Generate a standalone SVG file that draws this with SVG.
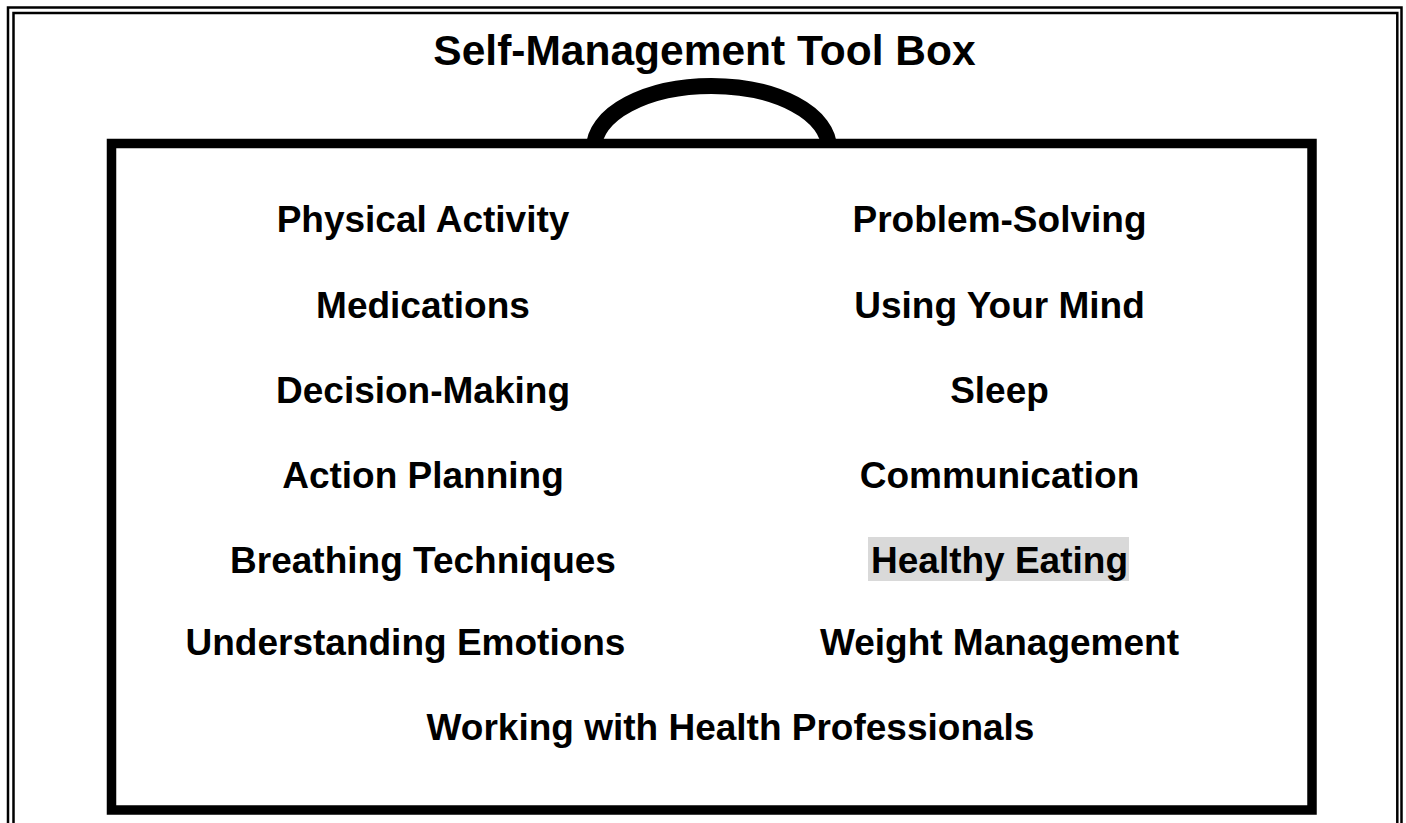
<svg xmlns="http://www.w3.org/2000/svg" width="1406" height="823" viewBox="0 0 1406 823">
<style>
.t{font-family:"Liberation Sans",Arial,sans-serif;font-weight:bold;font-size:37px;fill:#000;text-anchor:middle}
.frame{fill:none;stroke:#000;stroke-width:2.5}
</style>
<rect width="1406" height="823" fill="#fff"/>
<g id="frame">
<rect class="frame" x="8" y="7.5" width="1393.5" height="840"/>
<rect class="frame" x="13.5" y="13" width="1383.8" height="830"/>
</g>
<text id="title" class="t" x="704.5" y="65" style="font-size:42.5px">Self-Management Tool Box</text>
<g id="toolbox">
<path d="M 594 148 A 117.5 62 0 0 1 829 148" fill="none" stroke="#000" stroke-width="16"/>
<rect x="111.5" y="143.5" width="1200.5" height="666.5" fill="none" stroke="#000" stroke-width="9.5"/>
</g>
<g id="items">
<g id="n1"><text class="t" x="423" y="232">Physical Activity</text></g>
<g id="n2"><text class="t" x="999.5" y="232">Problem-Solving</text></g>
<g id="n3"><text class="t" x="423" y="318">Medications</text></g>
<g id="n4"><text class="t" x="999.5" y="318">Using Your Mind</text></g>
<g id="n5"><text class="t" x="423" y="403">Decision-Making</text></g>
<g id="n6"><text class="t" x="999.5" y="403">Sleep</text></g>
<g id="n7"><text class="t" x="423" y="488">Action Planning</text></g>
<g id="n8"><text class="t" x="999.5" y="488">Communication</text></g>
<g id="n9"><text class="t" x="423" y="573">Breathing Techniques</text></g>
<g id="n10"><rect x="868" y="537" width="261" height="44" fill="#d9d9d9"/><text class="t" x="999.5" y="573">Healthy Eating</text></g>
<g id="n11"><text class="t" x="405.5" y="655">Understanding Emotions</text></g>
<g id="n12"><text class="t" x="999.5" y="655">Weight Management</text></g>
<g id="n13"><text class="t" x="730.5" y="740">Working with Health Professionals</text></g>
</g>
<g id="connectors"/>
</svg>
